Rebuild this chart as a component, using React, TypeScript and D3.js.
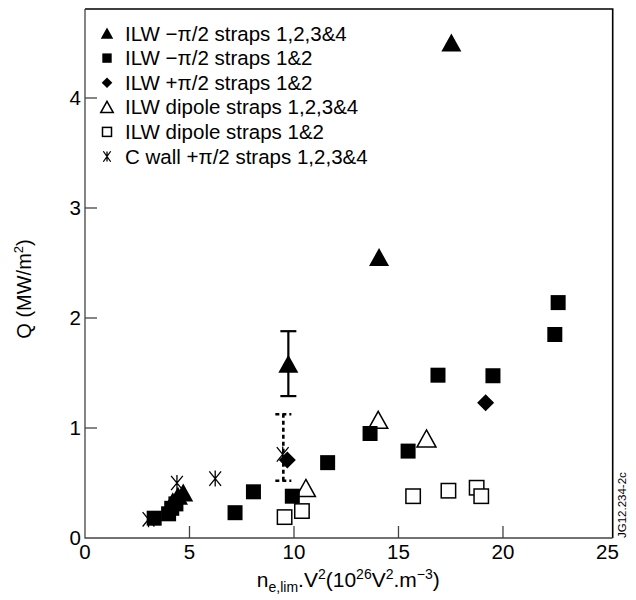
import React from "react";
import * as d3 from "d3";

// ---- data ----
const triNeg1234: [number, number][] = [
  [17.53, 4.5], [14.07, 2.55], [9.73, 1.58], [4.2, 0.33], [4.45, 0.38], [4.7, 0.41],
];
const sqNeg12: [number, number][] = [
  [22.64, 2.14], [22.48, 1.85], [16.89, 1.48], [19.52, 1.475], [13.64, 0.95],
  [15.46, 0.79], [11.61, 0.685], [8.06, 0.42], [7.18, 0.23], [9.92, 0.38],
  [3.31, 0.18], [4.0, 0.22], [4.15, 0.27], [4.35, 0.31],
];
const diaPos12: [number, number][] = [[9.68, 0.71], [19.17, 1.23]];
const triDipole1234: [number, number][] = [[14.03, 1.07], [16.34, 0.9], [10.57, 0.45]];
const sqDipole12: [number, number][] = [
  [9.55, 0.19], [10.38, 0.245], [15.7, 0.38], [17.39, 0.43], [18.74, 0.457], [18.96, 0.38],
];
const cwall: [number, number][] = [[3.04, 0.17], [4.4, 0.5], [6.23, 0.54], [9.46, 0.76]];

const errSolid = { x: 9.73, lo: 1.29, hi: 1.88 };
const errDotted = { x: 9.49, lo: 0.52, hi: 1.125 };

const xTicks = [0, 5, 10, 15, 20, 25];
const yTicks = [0, 1, 2, 3, 4];
const legendLabels = [
  "ILW \u2212\u03C0/2 straps 1,2,3&4",
  "ILW \u2212\u03C0/2 straps 1&2",
  "ILW +\u03C0/2 straps 1&2",
  "ILW dipole straps 1,2,3&4",
  "ILW dipole straps 1&2",
  "C wall +\u03C0/2 straps 1,2,3&4",
];

const FONT = "'Liberation Sans', Arial, Helvetica, sans-serif";

const L = 85, R = 612.7, T = 9, B = 538;
const x = d3.scaleLinear().domain([0, 25.25]).range([L, R]);
const y = d3.scaleLinear().domain([0, 4.809]).range([B, T]);

type Kind = "tri" | "sq" | "dia" | "otri" | "osq" | "ast";

function Marker({ cx, cy, kind, s }: { cx: number; cy: number; kind: Kind; s: number }) {
  const h = s / 2;
  switch (kind) {
    case "tri":
      return <path d={`M${cx},${cy - h * 0.95}L${cx + h},${cy + h * 0.85}L${cx - h},${cy + h * 0.85}Z`} fill="#000" />;
    case "otri":
      return <path d={`M${cx},${cy - h * 0.95}L${cx + h},${cy + h * 0.85}L${cx - h},${cy + h * 0.85}Z`} fill="#fff" stroke="#000" strokeWidth={1.5} />;
    case "sq":
      return <rect x={cx - h * 0.75} y={cy - h * 0.75} width={h * 1.5} height={h * 1.5} fill="#000" />;
    case "osq":
      return <rect x={cx - h * 0.72} y={cy - h * 0.72} width={h * 1.44} height={h * 1.44} fill="#fff" stroke="#000" strokeWidth={1.5} />;
    case "dia":
      return <path d={`M${cx},${cy - h * 0.85}L${cx + h * 0.85},${cy}L${cx},${cy + h * 0.85}L${cx - h * 0.85},${cy}Z`} fill="#000" />;
    case "ast": {
      const a = h * 0.8;
      const dx = a * Math.cos(Math.PI / 6) * 0.85;
      const dy = a * Math.sin(Math.PI / 6) * 1.3;
      return (
        <path
          d={`M${cx},${cy - a}L${cx},${cy + a}M${cx - dx},${cy - dy - 2}L${cx + dx},${cy + dy + 2}M${cx - dx},${cy + dy + 2}L${cx + dx},${cy - dy - 2}`}
          stroke="#000" strokeWidth={1.3} fill="none"
        />
      );
    }
  }
  return null;
}

export default function App() {
  const series: { data: [number, number][]; kind: Kind; s: number }[] = [
    { data: sqDipole12, kind: "osq", s: 20 },
    { data: triDipole1234, kind: "otri", s: 19 },
    { data: sqNeg12, kind: "sq", s: 20 },
    { data: triNeg1234, kind: "tri", s: 20 },
    { data: diaPos12, kind: "dia", s: 20 },
    { data: cwall, kind: "ast", s: 20 },
  ];
  const legendKinds: Kind[] = ["tri", "sq", "dia", "otri", "osq", "ast"];
  const capW = 8;
  return (
    <svg width={636} height={600} style={{ position: "absolute", left: 0, top: 0, background: "#fff" }} fontFamily={FONT}>
      <rect x={0} y={0} width={636} height={600} fill="#fff" />
      {/* frame */}
      <path d={`M${L},${T}H${R}V${B}`} fill="none" stroke="#000" strokeWidth={1.6} />
      <path d={`M${L},${T}V${B}H${R}`} fill="none" stroke="#444" strokeWidth={1.3} />
      {/* ticks */}
      {yTicks.map((t) => (
        <g key={"y" + t}>
          {t > 0 && <line x1={L} x2={L + 12} y1={y(t)} y2={y(t)} stroke="#444" strokeWidth={1.3} />}
          <text x={L - 4} y={y(t) + 7} fontSize={20.5} textAnchor="end">{t}</text>
        </g>
      ))}
      {xTicks.map((t) => (
        <g key={"x" + t}>
          {t > 0 && t < 25 && <line x1={x(t)} x2={x(t)} y1={B} y2={B - 12} stroke="#444" strokeWidth={1.3} />}
          <text x={x(t)} y={B + 21} fontSize={20.5} textAnchor="middle">{t}</text>
        </g>
      ))}
      {/* axis titles */}
      <text x={x(12.6)} y={587} fontSize={21} textAnchor="middle">
        <tspan>n</tspan>
        <tspan fontSize={14} dy={5}>e,lim</tspan>
        <tspan dy={-5}>.V</tspan>
        <tspan fontSize={14} dy={-8}>2</tspan>
        <tspan dy={8}>(10</tspan>
        <tspan fontSize={14} dy={-8}>26</tspan>
        <tspan dy={8}>V</tspan>
        <tspan fontSize={14} dy={-8}>2</tspan>
        <tspan dy={8}>.m</tspan>
        <tspan fontSize={14} dy={-8}>{"\u22123"}</tspan>
        <tspan dy={8}>)</tspan>
      </text>
      <text transform={`translate(31,${289}) rotate(-90)`} fontSize={20} textAnchor="middle">
        <tspan>Q (MW/m</tspan>
        <tspan fontSize={13} dy={-8}>2</tspan>
        <tspan dy={8}>)</tspan>
      </text>
      <text transform={`translate(626,${B}) rotate(-90)`} fontSize={11.5}>JG12.234-2c</text>
      {/* error bars */}
      <g stroke="#000" strokeWidth={2.2}>
        <line x1={x(errSolid.x)} x2={x(errSolid.x)} y1={y(errSolid.lo)} y2={y(errSolid.hi)} />
        <line x1={x(errSolid.x) - capW} x2={x(errSolid.x) + capW} y1={y(errSolid.hi)} y2={y(errSolid.hi)} />
        <line x1={x(errSolid.x) - capW} x2={x(errSolid.x) + capW} y1={y(errSolid.lo)} y2={y(errSolid.lo)} />
      </g>
      <g stroke="#000" strokeWidth={2.6} strokeDasharray="4,3">
        <line x1={x(errDotted.x)} x2={x(errDotted.x)} y1={y(errDotted.lo)} y2={y(errDotted.hi)} />
        <line x1={x(errDotted.x) - capW} x2={x(errDotted.x) + capW} y1={y(errDotted.hi)} y2={y(errDotted.hi)} />
        <line x1={x(errDotted.x) - capW} x2={x(errDotted.x) + capW} y1={y(errDotted.lo)} y2={y(errDotted.lo)} />
      </g>
      {/* points */}
      {series.map((s, i) => (
        <g key={i}>
          {s.data.map((d, j) => (
            <Marker key={j} cx={x(d[0])} cy={y(d[1])} kind={s.kind} s={s.s} />
          ))}
        </g>
      ))}
      {/* legend */}
      {legendLabels.map((lab, i) => {
        const ly = 33.5 + i * 24.6;
        return (
          <g key={lab}>
            <Marker cx={107} cy={ly} kind={legendKinds[i]} s={12.5} />
            <text x={125} y={ly + 7} fontSize={20.5}>{lab}</text>
          </g>
        );
      })}
    </svg>
  );
}
